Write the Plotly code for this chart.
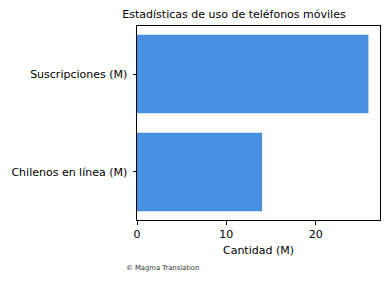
import plotly.graph_objects as go

categories = ["Chilenos en línea (M)", "Suscripciones (M)"]
values = [14.0, 25.9]
x_ticks = [0, 10, 20]

W, H = 390, 282
L, R, T, B = 137, 10, 26, 62

fig = go.Figure(go.Bar(
    x=values, y=categories, orientation="h",
    marker=dict(color="#4a90e2", line=dict(width=0)),
    width=0.8,
))

font = dict(family="DejaVu Sans", size=11, color="black")

fig.update_layout(
    width=W, height=H,
    margin=dict(l=L, r=R, t=T, b=B, pad=0),
    paper_bgcolor="white", plot_bgcolor="white",
    font=font,
    showlegend=False,
    title=dict(text="Estadísticas de uso de teléfonos móviles",
               x=234 / W, xanchor="center",
               y=1 - 14 / H, yanchor="middle",
               font=dict(family="DejaVu Sans", size=11, color="black")),
    xaxis=dict(range=[0, max(values) * 1.05], tickvals=x_ticks,
               ticks="outside", ticklen=3.5, tickwidth=0.8, tickcolor="black",
               showline=True, linecolor="black", linewidth=1, mirror=True,
               showgrid=False, zeroline=False,
               tickfont=font,
               title=dict(text="Cantidad (M)", font=font, standoff=6)),
    yaxis=dict(type="category", categoryorder="array", categoryarray=categories,
               range=[-0.49, 1.49],
               ticks="outside", ticklen=3.5, tickwidth=0.8, tickcolor="black",
               ticklabelstandoff=3,
               showline=True, linecolor="black", linewidth=1, mirror=True,
               showgrid=False, zeroline=False, tickfont=font),
    annotations=[dict(text="© Magma Translation", xref="paper", yref="paper",
                      x=(124 - L) / (W - L - R), y=-(268 - (H - B)) / (H - T - B),
                      xanchor="left", yanchor="middle", showarrow=False,
                      font=dict(family="DejaVu Sans", size=6.8, color="#333333"))],
)

fig.write_html("out.html")
